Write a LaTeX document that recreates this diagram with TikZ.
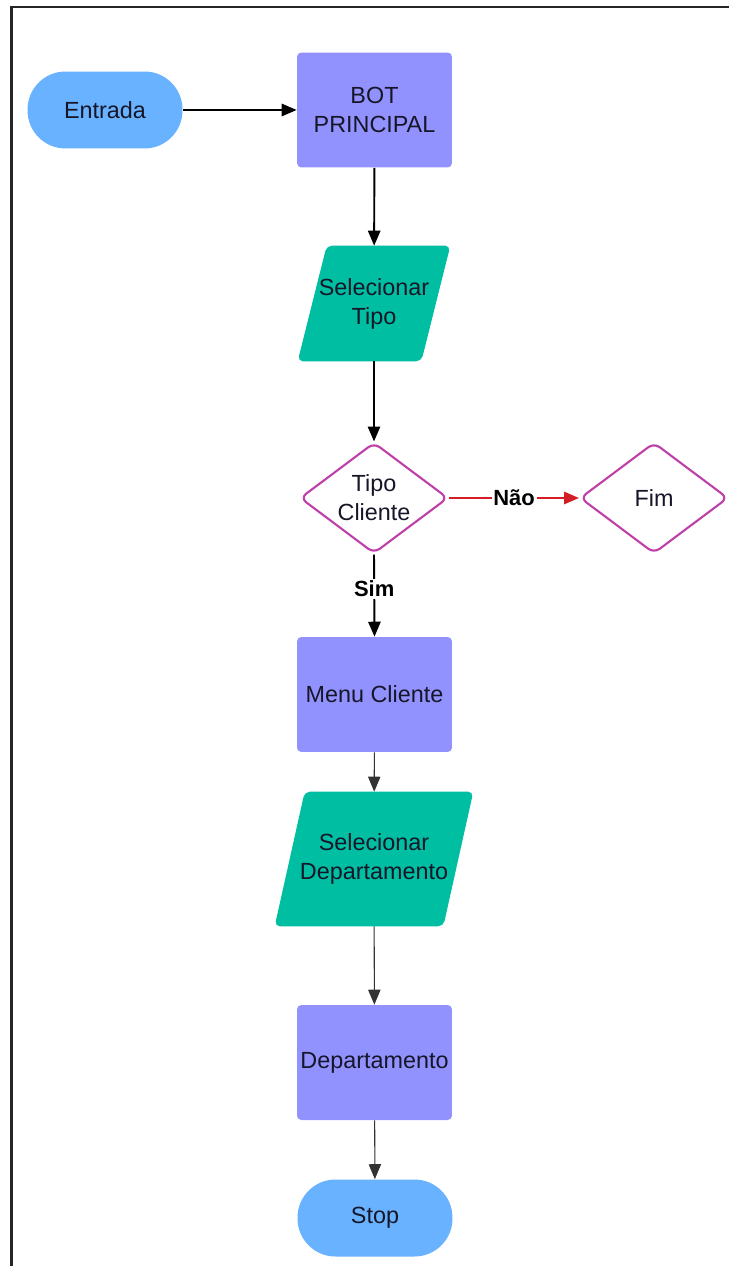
\documentclass[tikz,border=0pt]{standalone}
\usepackage{fontspec}
\setmainfont{Liberation Sans}
\usetikzlibrary{shapes.geometric,arrows.meta,backgrounds,calc}

\definecolor{termblue}{RGB}{104,178,255}
\definecolor{procpurple}{RGB}{146,146,255}
\definecolor{iogreen}{RGB}{0,190,162}
\definecolor{decborder}{RGB}{190,64,168}
\definecolor{noarrow}{RGB}{210,30,36}
\definecolor{ink}{RGB}{22,22,40}

% slanted input/output box drawn behind a named text node
\newcommand\ioback[2]{%
  \begin{pgfonlayer}{background}
    \fill[iogreen, rounded corners=3pt]
      ($(#1.south west)+(-#2,0)$) -- ($(#1.south east)+(-#2,0)$) --
      ($(#1.north east)+(#2,0)$) -- ($(#1.north west)+(#2,0)$) -- cycle;
  \end{pgfonlayer}}

\tikzset{
  base/.style={inner sep=0pt, align=center, text=ink,
    font=\fontsize{13.3}{16.5}\selectfont},
  terminal/.style={base, fill=termblue, rounded corners=0.76cm,
    minimum width=3.1cm, minimum height=1.54cm},
  process/.style={base, fill=procpurple, rounded corners=2.5pt,
    minimum width=3.1cm, minimum height=2.3cm},
  iobox/.style={base},
  decision/.style={base, diamond, aspect=1.33, draw=decborder, line width=1.2pt,
    fill=white, rounded corners=4pt, minimum width=2.96cm, minimum height=2.22cm},
  tip/.style={-{Triangle[length=8.5pt,width=7pt]}},
  flow/.style={tip, draw=black, line width=1.1pt},
  thinflow/.style={tip, draw=black!80, line width=0.6pt},
  noflow/.style={tip, draw=noarrow, line width=1.2pt},
  branch/.style={fill=white, inner sep=1pt, text=black,
    font=\fontsize{12.5}{14}\selectfont\bfseries},
  frameline/.style={draw=black!85, line width=1.4pt}
}

\begin{document}
\begin{tikzpicture}[x=0.02cm, y=-0.02cm]
  \useasboundingbox (0,0) rectangle (729,1266);

  % outer frame (left and top edges)
  \draw[frameline] (11.5,1266) -- (11.5,7) -- (729,7);

  % nodes
  \node[terminal] (entrada) at (105,110) {Entrada};
  \node[process] (bot) at (374.5,110) {BOT\\PRINCIPAL};
  \node[iobox, minimum width=2.46cm, minimum height=2.3cm] (seltipo) at (374,303.5) {Selecionar\\Tipo};
  \ioback{seltipo}{14.5}
  \node[decision] (tipo) at (374,498) {Tipo\\Cliente};
  \node[decision] (fim) at (654,498) {Fim};
  \node[process] (menu) at (374.5,694.5) {Menu Cliente};
  \node[iobox, minimum width=3.36cm, minimum height=2.68cm] (seldep) at (374,859) {Selecionar\\Departamento};
  \ioback{seldep}{15}
  \node[process] (dep) at (374.5,1062.5) {Departamento};
  \node[terminal] (stop) at (375,1218) {Stop};

  % connectors
  \draw[flow] (entrada) -- (bot);
  \draw[flow] (bot) -- (seltipo);
  \draw[flow] (seltipo) -- (tipo);
  \draw[noflow] (tipo.east) -- node[branch] (nao) {Não} (fim.west);
  \draw[flow] (tipo.south) -- node[branch, pos=0.42] (sim) {Sim} (menu.north);
  \draw[thinflow] (menu) -- (seldep);
  \draw[thinflow] (seldep) -- (dep);
  \draw[thinflow] (dep) -- (stop);
\end{tikzpicture}
\end{document}
